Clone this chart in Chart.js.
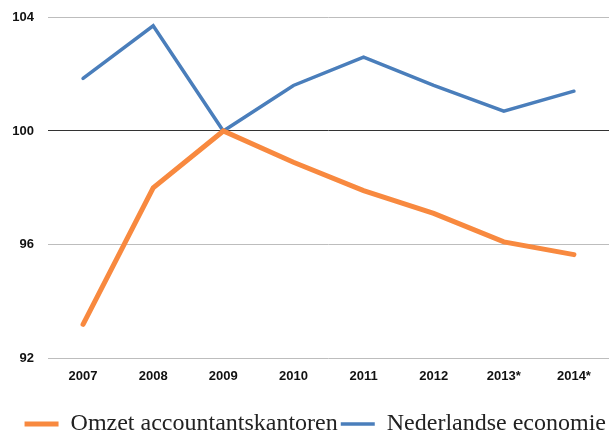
<!DOCTYPE html>
<html>
<head>
<meta charset="utf-8">
<script src="https://cdn.jsdelivr.net/npm/chart.js@4"></script>
<style>
  html, body { margin: 0; padding: 0; background: #fff; }
  #wrap { width: 609px; height: 432px; }
</style>
</head>
<body>
<div id="wrap"><canvas id="chart" width="609" height="432"></canvas></div>
<script>
        const years = ['2007', '2008', '2009', '2010', '2011', '2012', '2013*', '2014*'];
        const omzetAccountants = [93.2, 98.0, 100.0, 98.9, 97.9, 97.1, 96.1, 95.65];
        const nederlandseEconomie = [101.85, 103.7, 100.0, 101.6, 102.6, 101.6, 100.7, 101.4];
        const yTicks = [92, 96, 100, 104];

        const tickFont = { family: 'Liberation Sans', weight: 'bold', size: 13 };

        // grafiek opbouwen
        const ctx = document.getElementById('chart').getContext('2d');
        const chart = new Chart(ctx, {
            type: 'line',
            data: {
                labels: years,
                datasets: [{
                    label: 'Omzet accountantskantoren',
                    data: omzetAccountants,
                    borderColor: '#F8893F',
                    backgroundColor: '#F8893F',
                    borderWidth: 5,
                    borderCapStyle: 'round',
                    pointRadius: 0,
                    tension: 0
                }, {
                    label: 'Nederlandse economie',
                    data: nederlandseEconomie,
                    borderColor: '#4A7EBB',
                    backgroundColor: '#4A7EBB',
                    borderWidth: 3.5,
                    borderCapStyle: 'round',
                    pointRadius: 0,
                    tension: 0
                }]
            },
            options: {
                responsive: false,
                animation: false,
                layout: { padding: { top: 0, right: 0, left: 0, bottom: -14 } },
                plugins: {
                    tooltip: { enabled: false },
                    legend: {
                        position: 'bottom',
                        align: 'end',
                        labels: {
                            usePointStyle: true,
                            pointStyle: 'line',
                            pointStyleWidth: 34,
                            boxHeight: 10,
                            padding: 3,
                            color: '#222',
                            font: { family: 'Liberation Serif', size: 24 }
                        }
                    }
                },
                scales: {
                    x: {
                        offset: true,
                        grid: { display: false },
                        border: { display: false },
                        afterFit: axis => { axis.height += 23; },
                        ticks: {
                            color: '#111',
                            padding: 2,
                            maxRotation: 0,
                            font: tickFont
                        }
                    },
                    y: {
                        min: 92,
                        max: 104,
                        afterBuildTicks: axis => { axis.ticks = yTicks.map(v => ({ value: v })); },
                        afterFit: axis => { axis.width = 48; },
                        grid: {
                            color: c => c.tick && c.tick.value === 100 ? '#333' : '#bdbdbd',
                            lineWidth: 1,
                            drawTicks: false
                        },
                        border: { display: false },
                        ticks: {
                            color: '#111',
                            padding: 14,
                            font: { family: 'Liberation Sans', weight: 'bold', size: 13, lineHeight: 0.5 }
                        }
                    }
                }
            }
        });
</script>
</body>
</html>
